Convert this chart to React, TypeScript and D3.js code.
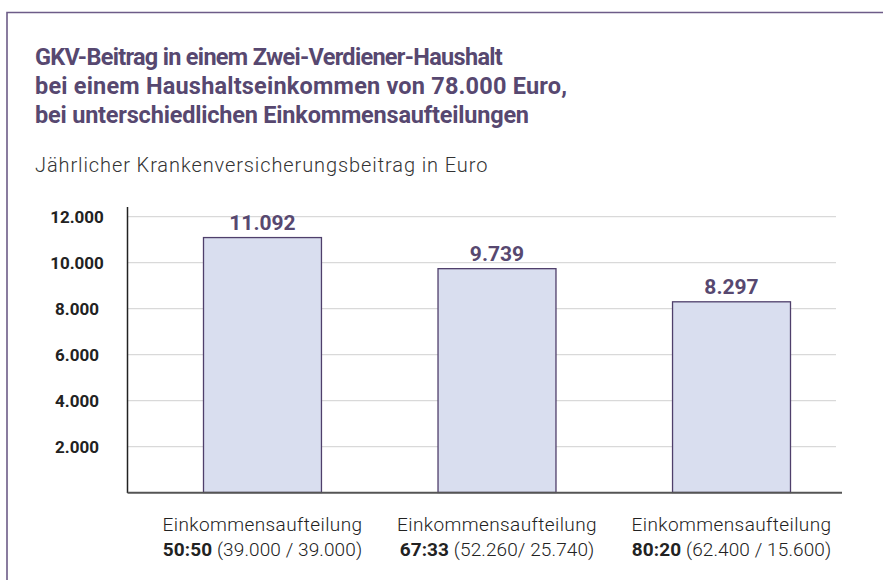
import React from "react";
import * as d3 from "d3";

const titleLines = [
  "GKV-Beitrag in einem Zwei-Verdiener-Haushalt",
  "bei einem Haushaltseinkommen von 78.000 Euro,",
  "bei unterschiedlichen Einkommensaufteilungen",
];
const subtitle = "Jährlicher Krankenversicherungsbeitrag in Euro";
const categories = ["50:50", "67:33", "80:20"];
const categoryDetails = ["(39.000 / 39.000)", "(52.260/ 25.740)", "(62.400 / 15.600)"];
const categoryPrefix = "Einkommensaufteilung";
const values = [11092, 9739, 8297];
const yTicks = [2000, 4000, 6000, 8000, 10000, 12000];

const W = 883;
const H = 580;
const FONT = "Roboto, 'DejaVu Sans', sans-serif";
const PURPLE = "#574870";
const TITLE_SPACING = [-0.7, 0.2, -0.2];

const fmt = (v: number) => d3.format(",")(v).replace(/,/g, ".");

export default function App() {
  const y = d3.scaleLinear().domain([0, 12000]).range([492.5, 216.7]);
  const x = d3
    .scaleBand<string>()
    .domain(categories)
    .range([203.5, 790.5])
    .paddingInner(0.497)
    .paddingOuter(0);
  const axisX0 = 127.5;
  const gridX1 = 836;
  const axisX1 = 842;

  return (
    <svg
      width={W}
      height={H}
      style={{ position: "absolute", left: 0, top: 0, background: "#fff" }}
      fontFamily={FONT}
    >
      {/* frame */}
      <path d={`M7,${H} V12.5 H${W}`} fill="none" stroke="#6d5c88" strokeWidth={1.6} />

      {/* title */}
      {titleLines.map((t, i) => (
        <text
          key={i}
          x={35}
          y={64.5 + i * 29}
          fontSize={23.5}
          fontWeight={700}
          fill={PURPLE}
          letterSpacing={TITLE_SPACING[i]}
        >
          {t}
        </text>
      ))}
      <text x={35} y={172} fontSize={20} fontWeight={300} fill="#333" letterSpacing={0.9}>
        {subtitle}
      </text>

      {/* grid */}
      {yTicks.map((t) => (
        <line
          key={t}
          x1={axisX0}
          x2={gridX1}
          y1={y(t)}
          y2={y(t)}
          stroke="#d9d9d9"
          strokeWidth={1.2}
        />
      ))}
      {/* tick labels */}
      {yTicks.map((t) => (
        <text
          key={t}
          x={77}
          y={y(t)}
          dy="0.36em"
          textAnchor="middle"
          fontSize={17}
          fontWeight={700}
          fill="#222"
        >
          {fmt(t)}
        </text>
      ))}

      {/* bars */}
      {categories.map((c, i) => (
        <g key={c}>
          <rect
            x={x(c)}
            y={y(values[i])}
            width={x.bandwidth()}
            height={y(0) - y(values[i])}
            fill="#d9deef"
            stroke="#4f3f6b"
            strokeWidth={1.3}
          />
          <text
            x={(x(c) as number) + x.bandwidth() / 2}
            y={y(values[i]) - 8}
            textAnchor="middle"
            fontSize={21}
            fontWeight={700}
            fill={PURPLE}
          >
            {fmt(values[i])}
          </text>
          <text
            x={(x(c) as number) + x.bandwidth() / 2}
            y={531}
            textAnchor="middle"
            fontSize={19}
            fontWeight={300}
            fill="#222"
            letterSpacing={0.4}
          >
            {categoryPrefix}
          </text>
          <text
            x={(x(c) as number) + x.bandwidth() / 2}
            y={556}
            textAnchor="middle"
            fontSize={19}
            fill="#222"
            letterSpacing={0.1}
          >
            <tspan fontWeight={700}>{c}</tspan>
            <tspan fontWeight={300}> {categoryDetails[i]}</tspan>
          </text>
        </g>
      ))}

      {/* axes */}
      <line x1={axisX0} x2={axisX0} y1={207} y2={493} stroke="#222" strokeWidth={1.5} />
      <line x1={axisX0} x2={axisX1} y1={492.7} y2={492.7} stroke="#555" strokeWidth={2} />
    </svg>
  );
}
